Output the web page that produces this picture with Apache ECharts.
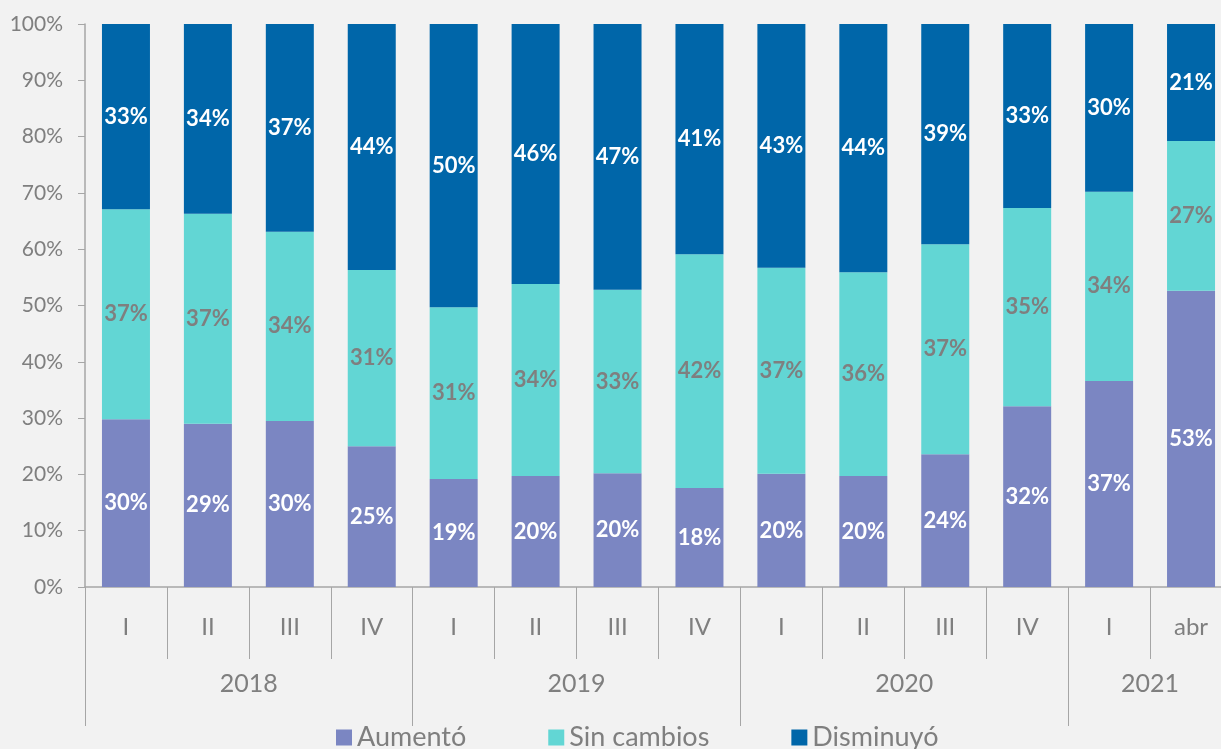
<!DOCTYPE html>
<html>
<head>
<meta charset="utf-8">
<script src="https://cdn.jsdelivr.net/npm/echarts@6/dist/echarts.min.js"></script>
<style>
  html, body { margin: 0; padding: 0; background: #f2f2f2; overflow: hidden; }
  /* el gráfico original está recortado a la derecha */
  #chart { width: 1232px; height: 749px; }
</style>
</head>
<body>
<div id="chart"></div>
<script>
// periodos (trimestres) y años
const quarters = ['I', 'II', 'III', 'IV', 'I', 'II', 'III', 'IV', 'I', 'II', 'III', 'IV', 'I', 'abr'];
const years = ['2018', '2019', '2020', '2021'];
const yearCenters = [2, 6, 10, 13];
const yearBounds = [0, 4, 8, 12, 14];

// porcentajes por serie
const aumento = [29.8, 29.0, 29.5, 25.0, 19.2, 19.7, 20.2, 17.6, 20.1, 19.7, 23.6, 32.1, 36.6, 52.6];
const sinCambios = [37.3, 37.3, 33.6, 31.3, 30.5, 34.1, 32.6, 41.5, 36.6, 36.2, 37.3, 35.2, 33.6, 26.6];
const disminuyo = [32.9, 33.7, 36.9, 43.7, 50.3, 46.2, 47.2, 40.9, 43.3, 44.1, 39.1, 32.7, 29.8, 20.8];

const yTicks = [0, 10, 20, 30, 40, 50, 60, 70, 80, 90, 100];

const chart = echarts.init(document.getElementById('chart'));
const font = 'Lato, "Open Sans", sans-serif';
const gray = '#7f7f7f';
const lineGray = '#a6a6a6';

function label(color) {
    return {
        show: true,
        position: 'inside',
        color: color,
        fontFamily: font,
        fontWeight: 'bold',
        fontSize: 22,
        formatter: p => Math.round(p.value) + '%'
    };
}

const option = {
    backgroundColor: '#f2f2f2',
    animation: false,
    textStyle: { fontFamily: font },
    grid: { left: 85, right: 0, top: 24, bottom: 162, containLabel: false },
    legend: {
        top: 719,
        left: 331,
        icon: 'rect',
        itemWidth: 16,
        itemHeight: 16,
        itemGap: 82,
        textStyle: { color: gray, fontSize: 27, fontFamily: font },
        data: ['Aumentó', 'Sin cambios', 'Disminuyó']
    },
    xAxis: [
        {
            type: 'category',
            data: quarters,
            axisLine: { lineStyle: { color: lineGray, width: 1.5 } },
            axisTick: { show: true, interval: 0, length: 72, lineStyle: { color: lineGray } },
            axisLabel: { interval: 0, color: gray, fontSize: 24, margin: 28, fontFamily: font }
        },
        {
            type: 'value',
            position: 'bottom',
            min: 0,
            max: 14,
            splitLine: { show: false },
            axisLine: { show: false },
            axisTick: { show: true, customValues: yearBounds, length: 139, lineStyle: { color: lineGray } },
            axisLabel: {
                customValues: yearCenters,
                color: gray,
                fontSize: 25,
                margin: 84,
                fontFamily: font,
                formatter: v => years[yearCenters.indexOf(v)]
            }
        }
    ],
    yAxis: {
        type: 'value',
        min: 0,
        max: 100,
        interval: 10,
        splitLine: { show: false },
        axisLine: { show: true, lineStyle: { color: lineGray, width: 1.5 } },
        axisTick: { show: true, length: 7, lineStyle: { color: lineGray } },
        axisLabel: {
            color: gray,
            fontSize: 21,
            margin: 22,
            fontFamily: font,
            formatter: v => yTicks.includes(v) ? v + '%' : ''
        }
    },
    series: [
        {
            name: 'Aumentó', type: 'bar', stack: 'total', barWidth: 48,
            itemStyle: { color: '#7b86c2' },
            label: label('#ffffff'),
            data: aumento
        },
        {
            name: 'Sin cambios', type: 'bar', stack: 'total', barWidth: 48,
            itemStyle: { color: '#62d6d4' },
            label: label('#7f7f7f'),
            data: sinCambios
        },
        {
            name: 'Disminuyó', type: 'bar', stack: 'total', barWidth: 48,
            itemStyle: { color: '#0066a9' },
            label: label('#ffffff'),
            data: disminuyo
        }
    ]
};

chart.setOption(option);
</script>
</body>
</html>
